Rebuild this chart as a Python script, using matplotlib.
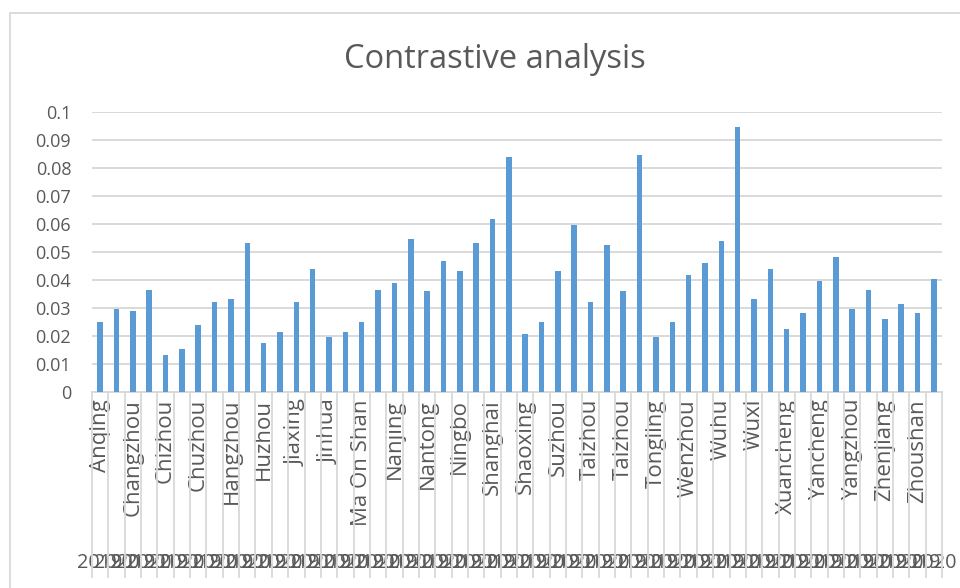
import matplotlib
matplotlib.use("Agg")
import matplotlib.pyplot as plt
import matplotlib.transforms as mtransforms
from matplotlib.lines import Line2D
from matplotlib.patches import Rectangle
import numpy as np

cities = ["Anqing", "Changzhou", "Chizhou", "Chuzhou", "Hangzhou", "Huzhou",
          "Jiaxing", "Jinhua", "Ma On Shan", "Nanjing", "Nantong", "Ningbo",
          "Shanghai", "Shaoxing", "Suzhou", "Taizhou", "Taizhou", "Tongling",
          "Wenzhou", "Wuhu", "Wuxi", "Xuancheng", "Yancheng", "Yangzhou",
          "Zhenjiang", "Zhoushan"]
years = ["2019", "2020"]
v2019 = [0.0251, 0.0289, 0.0131, 0.0238, 0.0331, 0.0174, 0.0323, 0.0196,
         0.0251, 0.0389, 0.0360, 0.0432, 0.0617, 0.0208, 0.0432, 0.0323,
         0.0360, 0.0196, 0.0417, 0.0539, 0.0331, 0.0224, 0.0395, 0.0295,
         0.0259, 0.0281]
v2020 = [0.0295, 0.0366, 0.0152, 0.0323, 0.0532, 0.0216, 0.0439, 0.0216,
         0.0366, 0.0545, 0.0467, 0.0532, 0.0839, 0.0251, 0.0596, 0.0524,
         0.0845, 0.0251, 0.0460, 0.0946, 0.0439, 0.0281, 0.0482, 0.0366,
         0.0316, 0.0402]

BLUE = "#5B9BD5"
GRID = "#D9D9D9"
TEXT = "#595959"
W, H = 960, 588

plt.rcParams["font.family"] = ["Open Sans", "DejaVu Sans"]

# one bar per (city, year), years alternating inside each city
values = [v for pair in zip(v2019, v2020) for v in pair]
year_labels = [y for _ in cities for y in years]
n = len(values)
x = np.arange(n)

fig = plt.figure(figsize=(W / 100, H / 100), dpi=100)
fig.patch.set_facecolor("white")


def fx(px):
    return px / W


def fy(py):
    return 1 - py / H


# chart-area border (runs off the right and bottom edges)
fig.patches.append(Rectangle((fx(10), fy(H + 20)), 1.2, fy(13) - fy(H + 20),
                             transform=fig.transFigure, fill=False,
                             edgecolor=GRID, linewidth=1.3))

left, right, top, bottom = 92, 942, 112, 392
ax = fig.add_axes([fx(left), fy(bottom), fx(right - left), fy(top) - fy(bottom)])

ax.bar(x, values, width=0.34, color=BLUE, zorder=3)
ax.set_xlim(-0.5, n - 0.5)
ax.set_ylim(0, 0.1)
ax.set_yticks(np.arange(0, 0.1001, 0.01))
ax.set_yticklabels(["0"] + [f"{t:.2f}".rstrip("0") for t in np.arange(0.01, 0.1001, 0.01)])
ax.tick_params(axis="y", length=0, pad=15, labelsize=13, labelcolor=TEXT)
ax.set_xticks([])
ax.grid(axis="y", color=GRID, linewidth=1.4, zorder=0)
for s in ["top", "right", "left"]:
    ax.spines[s].set_visible(False)
ax.spines["bottom"].set_color(GRID)
ax.spines["bottom"].set_linewidth(1.4)

# category axis: separators, city row and year row
trans = mtransforms.blended_transform_factory(ax.transData, fig.transFigure)
for b in np.arange(-0.5, n, 1.0):
    fig.add_artist(Line2D([b, b], [fy(bottom), fy(577)], transform=trans,
                          color=GRID, linewidth=1.3, zorder=1))
for i in range(0, n, 2):
    ax.text(x[i], fy(399), cities[i // 2], transform=trans, rotation=90,
            ha="center", va="top", fontsize=16, color=TEXT, clip_on=False)
for i in range(n):
    ax.text(x[i], fy(568), year_labels[i], transform=trans, ha="center",
            va="baseline", fontsize=14.3, color=TEXT, clip_on=False)

fig.text(fx(495), fy(68), "Contrastive analysis", ha="center", va="baseline",
         fontsize=23.5, color=TEXT)

fig.savefig("out.png", dpi=100)
